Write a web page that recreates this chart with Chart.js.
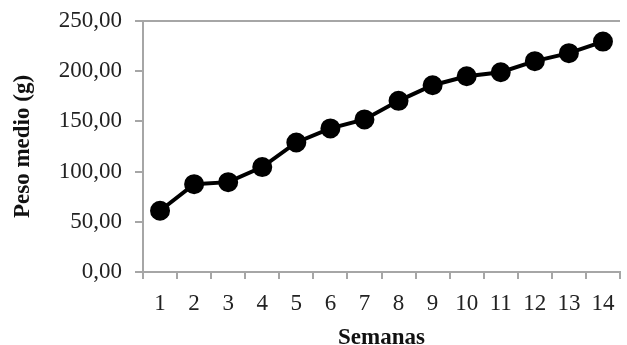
<!DOCTYPE html>
<html>
<head>
<meta charset="utf-8">
<script src="https://cdn.jsdelivr.net/npm/chart.js@4"></script>
<style>
    html, body { margin: 0; padding: 0; background: #fff; overflow: hidden; }
    canvas { display: block; }
</style>
</head>
<body>
<canvas id="chart" width="632" height="345"></canvas>
<script>
const semanas = ['1', '2', '3', '4', '5', '6', '7', '8', '9', '10', '11', '12', '13', '14'];
const pesoMedio = [61, 87.5, 89.5, 104.5, 129, 143, 152, 170.5, 186, 195, 199, 210, 218, 229.5];
const yTicks = [0, 50, 100, 150, 200, 250];

const axisGrey = '#a6a6a6';
const serif = "'Liberation Serif', 'Times New Roman', serif";

const data = {
    labels: semanas,
    datasets: [{
        label: 'Peso medio (g)',
        data: pesoMedio,
        borderColor: '#000',
        backgroundColor: '#000',
        borderWidth: 4,
        pointRadius: 8,
        pointHoverRadius: 8,
        tension: 0,
    }]
};

const config = {
    type: 'line',
    data: data,
    options: {
        responsive: false,
        animation: false,
        layout: {
            padding: { top: 21, right: 0, bottom: 0, left: 0 }
        },
        scales: {
            x: {
                type: 'category',
                offset: true,
                grid: {
                    offset: true,
                    color: 'rgba(0,0,0,0)',
                    tickColor: axisGrey,
                    tickLength: 7,
                    lineWidth: 2,
                },
                border: { color: axisGrey, width: 2 },
                ticks: {
                    color: '#222',
                    padding: 11,
                    font: { family: serif, size: 23 },
                    maxRotation: 0,
                },
                title: {
                    display: true,
                    text: 'Semanas',
                    color: '#111',
                    font: { family: serif, size: 23, weight: 'bold' },
                    padding: { top: 0, bottom: -7 },
                },
                afterFit: (scale) => { scale.height = 73; },
            },
            y: {
                type: 'linear',
                min: 0,
                max: 250,
                afterBuildTicks: (scale) => {
                    scale.ticks = yTicks.map(v => ({ value: v }));
                },
                grid: {
                    color: (context) => context.tick && context.tick.value === 250 ? axisGrey : 'rgba(0,0,0,0)',
                    tickColor: axisGrey,
                    tickLength: 8,
                    lineWidth: 2,
                },
                border: { color: axisGrey, width: 2 },
                ticks: {
                    color: '#222',
                    padding: 13,
                    font: { family: serif, size: 23 },
                    callback: function (value) {
                        return value.toFixed(2).replace('.', ',');
                    }
                },
                title: {
                    display: true,
                    text: 'Peso medio (g)',
                    color: '#111',
                    font: { family: serif, size: 23, weight: 'bold' },
                    padding: { top: 9, bottom: 0 },
                },
                afterFit: (scale) => {
                    scale.width = 143;
                    scale.paddingTop = 0;
                    scale.paddingBottom = 0;
                },
            }
        },
        plugins: {
            legend: { display: false },
            tooltip: { enabled: false },
        },
    }
};

new Chart(document.getElementById('chart'), config);
</script>
</body>
</html>
